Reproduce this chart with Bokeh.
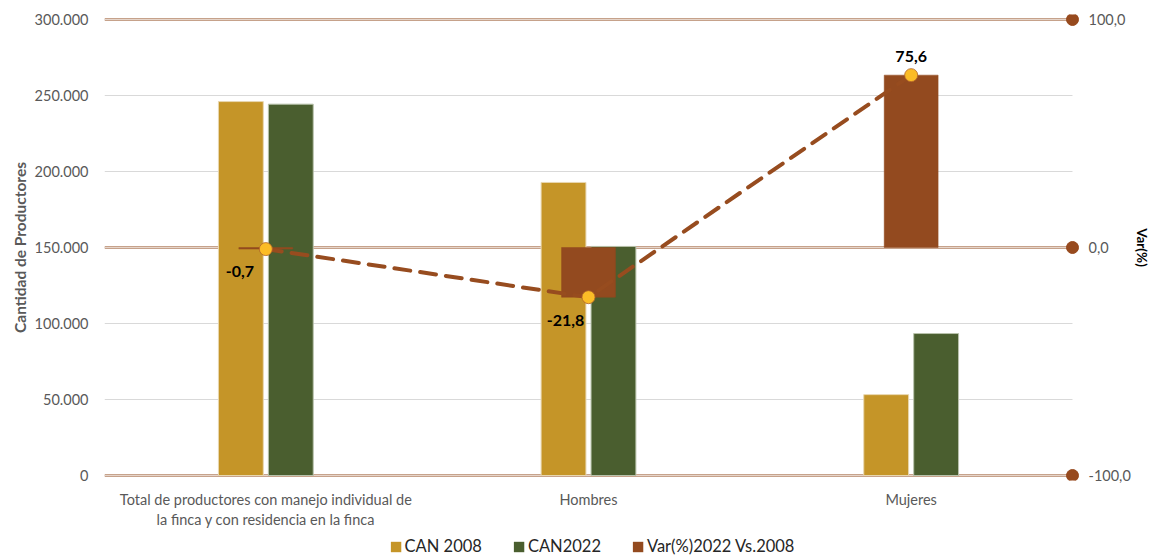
from bokeh.plotting import figure
from bokeh.layouts import column
from bokeh.models import (Range1d, LinearAxis, FixedTicker, Legend, LegendItem,
                          ColumnDataSource)
from bokeh.core.properties import value
from bokeh.transform import dodge
from bokeh.embed import file_html
from bokeh.resources import INLINE

# ---------------- data ----------------
categories = ["Total de productores con manejo individual de\nla finca y con residencia en la finca",
              "Hombres", "Mujeres"]
can_2008 = [246000, 192800, 53200]
can_2022 = [244300, 150700, 93400]
var_pct = [-0.7, -21.8, 75.6]
series_names = ["CAN 2008", "CAN2022", "Var(%)2022 Vs.2008"]

left_ticks = [0, 50000, 100000, 150000, 200000, 250000, 300000]
left_tick_labels = ["0", "50.000", "100.000", "150.000", "200.000", "250.000", "300.000"]
right_ticks = [-100, 0, 100]
right_tick_labels = ["-100,0", "0,0", "100,0"]
y_title = "Cantidad de Productores"
y2_title = "Var(%)"

# ---------------- styles ----------------
FONT = "Lato"
C2008 = "#C59528"
C2022 = "#4A5E2F"
CVAR = "#934A1F"
CMARK = "#FBBC26"
CGRID = "#D9D9D9"
CBROWN_GRID = "#C6A28B"
CTEXT = "#595959"
series_colors = [C2008, C2022, CVAR]

n = len(categories)
xc = [i + 0.5 for i in range(n)]
labels_txt = [f"{v:.1f}".replace(".", ",") for v in var_pct]
label_dx = [-26, -23, 0]
label_dy = [22, 23, -19]

src = ColumnDataSource(dict(x=xc, a=can_2008, b=can_2022, v=var_pct, t=labels_txt,
                            dx=label_dx, dy=label_dy))

p = figure(width=1152, height=532, output_backend="svg", toolbar_location=None,
           x_range=Range1d(0, 3.0217), y_range=Range1d(-3289, 303289),
           min_border_left=104, min_border_right=72, min_border_top=14, min_border_bottom=52)
p.extra_y_ranges = {"var": Range1d(-102.193, 102.193)}
p.outline_line_color = None
p.xgrid.visible = False
p.ygrid.visible = False
p.background_fill_color = "white"
p.border_fill_color = "white"

# gridlines (primary, gray)
p.segment(x0=[0] * len(left_ticks), x1=[3] * len(left_ticks), y0=left_ticks, y1=left_ticks,
          line_color=CGRID, line_width=1)
# gridlines (secondary, brown double)
p.segment(x0=[0] * len(right_ticks), x1=[3] * len(right_ticks), y0=right_ticks, y1=right_ticks,
          line_color=CBROWN_GRID, line_width=3, y_range_name="var")
p.segment(x0=[0] * len(right_ticks), x1=[3] * len(right_ticks), y0=right_ticks, y1=right_ticks,
          line_color="#E6D5CA", line_width=1, y_range_name="var")

bw = 0.139
off = 0.0774
p.vbar(x=dodge("x", -off), top="a", bottom=0, width=bw, source=src,
       fill_color=C2008, line_color="#E8D7B0", line_width=1)
p.vbar(x=dodge("x", off), top="b", bottom=0, width=bw, source=src,
       fill_color=C2022, line_color="#B9C3AC", line_width=1)
p.vbar(x="x", top="v", bottom=0, width=0.167, source=src, y_range_name="var",
       fill_color=CVAR, line_color=CVAR, line_width=0.5)

p.line(x="x", y="v", source=src, y_range_name="var", line_color="#974C1F", line_width=4,
       line_dash="16 10", line_cap="round")
p.scatter(x="x", y="v", source=src, y_range_name="var", size=13, fill_color=CMARK,
          line_color="#B0622A", line_width=0.8)

p.text(x="x", y="v", text="t", source=src, y_range_name="var", x_offset="dx", y_offset="dy",
       text_font=value(FONT), text_font_size="16px", text_font_style="bold",
       text_color="black", text_align="center", text_baseline="middle")

# right-axis dots
p.scatter(x=[3] * len(right_ticks), y=right_ticks, y_range_name="var", size=12,
          fill_color="#974A1E", line_color="#974A1E")


def plain(ax):
    ax.axis_line_color = None
    ax.major_tick_line_color = None
    ax.minor_tick_line_color = None
    ax.major_tick_out = 0
    ax.major_tick_in = 0
    ax.minor_tick_out = 0
    ax.minor_tick_in = 0


# left axis
ya = p.yaxis[0]
plain(ya)
ya.ticker = FixedTicker(ticks=left_ticks)
ya.major_label_overrides = {t: s for t, s in zip(left_ticks, left_tick_labels)}
ya.major_label_standoff = 16
ya.major_label_text_font = FONT
ya.major_label_text_font_size = "14.5px"
ya.major_label_text_color = CTEXT
ya.axis_label = y_title
ya.axis_label_text_font = FONT
ya.axis_label_text_font_size = "15.5px"
ya.axis_label_text_font_style = "bold"
ya.axis_label_text_color = CTEXT
ya.axis_label_standoff = 3

# right axis
ra = LinearAxis(y_range_name="var", ticker=FixedTicker(ticks=right_ticks))
plain(ra)
ra.major_label_overrides = {t: s for t, s in zip(right_ticks, right_tick_labels)}
ra.major_label_standoff = 9
ra.major_label_text_font = FONT
ra.major_label_text_font_size = "14.5px"
ra.major_label_text_color = CTEXT
ra.axis_label = y2_title
ra.axis_label_text_font = FONT
ra.axis_label_text_font_size = "13.5px"
ra.axis_label_text_font_style = "bold"
ra.axis_label_text_color = "black"
ra.axis_label_standoff = 0
p.add_layout(ra, "right")

# x axis
xa = p.xaxis[0]
plain(xa)
xa.ticker = FixedTicker(ticks=xc)
xa.major_label_overrides = {x: c for x, c in zip(xc, categories)}
xa.major_label_standoff = 10
xa.major_label_text_font = FONT
xa.major_label_text_font_size = "14.5px"
xa.major_label_text_color = CTEXT
xa.major_label_text_line_height = 1.18

# ---------------- legend strip ----------------
lg = figure(width=1152, height=24, output_backend="svg", toolbar_location=None,
            x_range=Range1d(0, 1), y_range=Range1d(0, 1),
            min_border_left=20, min_border_right=0, min_border_top=0, min_border_bottom=0)
lg.axis.visible = False
lg.grid.visible = False
lg.outline_line_color = None
lg.background_fill_color = "white"
lg.border_fill_color = "white"
items = []
for name, col in zip(series_names, series_colors):
    # zero-size proxy glyph: only its legend swatch is visible
    r = lg.vbar(x=[0.5], top=[0], bottom=[0], width=0, fill_color=col, line_color=None)
    items.append(LegendItem(label=name, renderers=[r]))
legend = Legend(items=items, orientation="horizontal", location="bottom_center",
                glyph_width=13, glyph_height=13, label_standoff=3, spacing=30,
                padding=0, margin=0, border_line_color=None, background_fill_alpha=0,
                label_text_font=FONT, label_text_font_size="16.5px", label_text_color="#262626",
                label_height=16)
lg.add_layout(legend, "center")

layout = column(p, lg, spacing=0)
open("out.html", "w").write(file_html(layout, INLINE))
